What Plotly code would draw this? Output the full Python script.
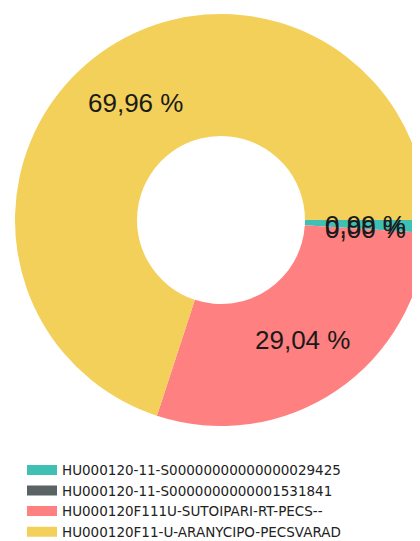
import math
import plotly.graph_objects as go

labels = [
    "HU000120-11-S00000000000000029425",
    "HU000120-11-S0000000000001531841",
    "HU000120F111U-SUTOIPARI-RT-PECS--",
    "HU000120F11-U-ARANYCIPO-PECSVARAD",
]
values = [0.99, 0.004, 29.04, 69.96]
colors = ["#40BFB4", "#5B6264", "#FF8080", "#F2D05A"]

OFF = 8                       # browser body margin
W, H = 420, 541

# donut geometry (figure pixels)
CX, CY = 221 - OFF, 220 - OFF
R = 206
R_HOLE = 84
ROTATION = 90

fig = go.Figure()
fig.add_trace(go.Pie(
    labels=labels,
    values=values,
    hole=R_HOLE / R,
    sort=False,
    direction="clockwise",
    rotation=ROTATION,
    marker=dict(colors=colors, line=dict(width=0)),
    textinfo="none",
    showlegend=False,
    hoverinfo="skip",
    domain=dict(x=[(CX - R) / W, (CX + R) / W],
                y=[1 - (CY + R) / H, 1 - (CY - R) / H]),
))

# percentage labels at ring middle, mid-angle of each slice
total = sum(values)
r_mid = (R + R_HOLE) / 2
cum = 0.0
for v in values:
    ang = math.radians(ROTATION + (cum + v / 2) / total * 360)
    cum += v
    px = CX + r_mid * math.sin(ang)
    py = CY - r_mid * math.cos(ang)
    fig.add_annotation(
        x=px / W, y=1 - py / H, xref="paper", yref="paper",
        text=f"{v / total * 100:.2f} %".replace(".", ","),
        showarrow=False, xanchor="center", yanchor="middle",
        font=dict(family="Liberation Sans, Arial", size=26, color="#1a1a1a"),
    )

for lab, col in zip(labels, colors):
    fig.add_trace(go.Scatter(
        x=[None], y=[None], mode="lines", name=lab,
        line=dict(color=col, width=14),
    ))

fig.update_layout(
    width=W, height=H,
    margin=dict(l=0, r=0, t=0, b=0, autoexpand=False),
    paper_bgcolor="white", plot_bgcolor="white",
    xaxis=dict(visible=False), yaxis=dict(visible=False),
    legend=dict(
        x=(27 - 5 - OFF) / W, y=1 - (470 - OFF - 15.3) / H,
        xanchor="left", yanchor="top",
        font=dict(family="DejaVu Sans", size=13.5, color="#222222"),
        tracegroupgap=0, bgcolor="rgba(0,0,0,0)",
    ),
)

fig.write_html("out.html", config={"displayModeBar": False})
